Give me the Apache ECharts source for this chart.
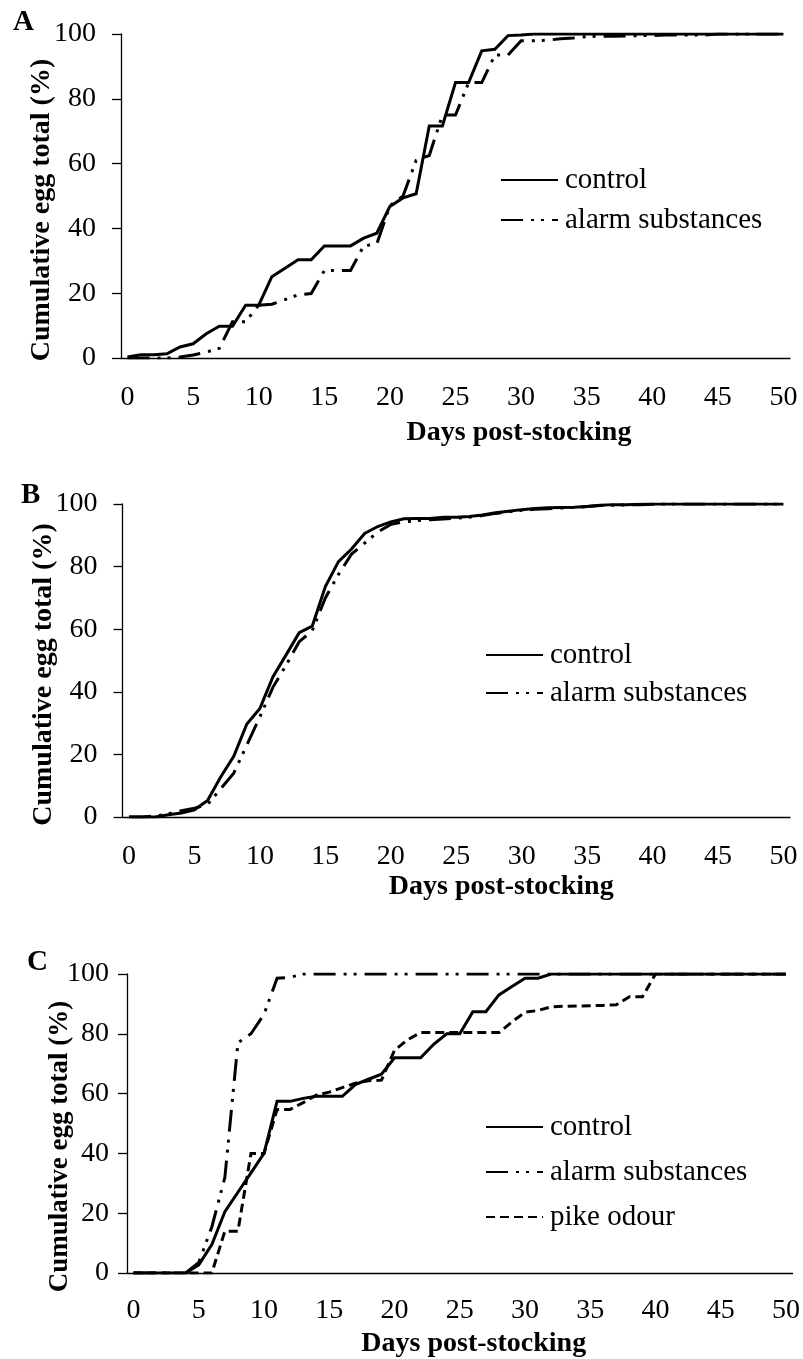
<!DOCTYPE html>
<html>
<head>
<meta charset="utf-8">
<title>Cumulative egg total</title>
<script src="https://cdn.jsdelivr.net/npm/echarts@6.0.0/dist/echarts.min.js"></script>
<style>
  html, body { margin: 0; padding: 0; background: #fff; }
  #chart { width: 803px; height: 1359px; }
</style>
</head>
<body>
<div id="chart"></div>
<script>
// days post-stocking (category axis, one per day)
var days = [0, 1, 2, 3, 4, 5, 6, 7, 8, 9, 10, 11, 12, 13, 14, 15, 16, 17, 18, 19, 20,
  21, 22, 23, 24, 25, 26, 27, 28, 29, 30, 31, 32, 33, 34, 35, 36, 37, 38, 39, 40,
  41, 42, 43, 44, 45, 46, 47, 48, 49, 50];

// panel A
var controlA = [0.3, 1, 1, 1.3, 3.4, 4.4, 7.5, 9.8, 9.8, 16.3,
  16.3, 25.1, 27.7, 30.3, 30.3, 34.6, 34.6, 34.6, 37, 38.5,
  46.8, 49.4, 50.7, 71.6, 71.6, 85, 85, 94.8, 95.3, 99.5,
  99.7, 100, 100, 100, 100, 100, 100, 100, 100, 100,
  100, 100, 100, 100, 100, 100, 100, 100, 100, 100, 100];
var alarmA = [0, 0, 0, 0, 0.3, 0.9, 1.8, 3, 11.2, 11.2,
  16.3, 16.6, 18, 19.5, 19.9, 27, 27, 27, 34.6, 35.2,
  47, 50, 61, 62.5, 75, 75, 85, 85, 93.5, 93.5,
  97.9, 97.9, 98.1, 98.5, 98.8, 99.2, 99.3, 99.3, 99.4, 99.5,
  99.5, 99.7, 99.7, 99.7, 99.7, 100, 100, 100, 100, 100, 100];

// panel B
var controlB = [0, 0, 0, 0.7, 1.3, 2.3, 5.3, 12.8, 19.4, 29.7,
  34.7, 44.8, 51.8, 58.9, 61, 73.6, 81.6, 85.6, 90.6, 92.8,
  94.3, 95.3, 95.4, 95.4, 95.8, 95.8, 96, 96.5, 97.2, 97.7,
  98.2, 98.6, 98.8, 98.9, 99, 99.2, 99.6, 99.8, 99.8, 99.9,
  100, 100, 100, 100, 100, 100, 100, 100, 100, 100, 100];
var alarmB = [0, 0, 0.3, 1, 2, 2.8, 4, 9, 14, 23,
  32, 41.5, 48.5, 56, 59.5, 70, 77.5, 84, 87.5, 91,
  93.5, 94.3, 94.7, 95, 95.2, 95.5, 95.8, 96.3, 97, 97.5,
  98, 98.3, 98.5, 98.7, 98.9, 99.2, 99.5, 99.6, 99.7, 99.8,
  99.9, 100, 100, 100, 100, 100, 100, 100, 100, 100, 100];

// panel C
var controlC = [0, 0, 0, 0, 0, 2.7, 9.5, 20.5, 27, 33.5,
  40, 57.4, 57.4, 58.4, 59.1, 59.1, 59.1, 63, 64.8, 66.5,
  72, 72, 72, 76.5, 80, 80, 87.4, 87.4, 93, 95.8,
  98.6, 98.6, 100, 100, 100, 100, 100, 100, 100, 100,
  100, 100, 100, 100, 100, 100, 100, 100, 100, 100, 100];
var alarmC = [0, 0, 0, 0, 0, 3.5, 15.4, 32, 77, 80,
  86.5, 98.6, 98.9, 100, 100, 100, 100, 100, 100, 100,
  100, 100, 100, 100, 100, 100, 100, 100, 100, 100,
  100, 100, 100, 100, 100, 100, 100, 100, 100, 100,
  100, 100, 100, 100, 100, 100, 100, 100, 100, 100, 100];
var pikeC = [0, 0, 0, 0, 0, 0, 0, 14, 14, 40,
  40, 54.7, 54.7, 57, 59.5, 60.5, 62, 63.5, 64.3, 64.5,
  74.5, 78, 80.4, 80.4, 80.4, 80.4, 80.4, 80.4, 80.4, 84,
  87.2, 87.8, 89, 89.2, 89.3, 89.4, 89.5, 89.7, 92.4, 92.4,
  100, 100, 100, 100, 100, 100, 100, 100, 100, 100, 100];

var yTicks = [0, 20, 40, 60, 80, 100];
var xTitle = 'Days post-stocking';
var yTitle = 'Cumulative egg total (%)';

var FONT = '"Liberation Serif", "Times New Roman", serif';
var dashDotDot = [22, 8, 3, 7, 3, 8];
var shortDash = [9, 5];

function xAxis(idx, labelMargin, nameGap, shift) {
  return {
    type: 'category', gridIndex: idx, data: days, boundaryGap: true,
    axisLine: { lineStyle: { color: '#000', width: 1.3 } },
    axisTick: { interval: 4, length: 9, alignWithLabel: false, lineStyle: { color: '#000', width: 1.3 } },
    axisLabel: { interval: 4, margin: labelMargin, color: '#000', fontFamily: FONT, fontSize: 28 },
    name: xTitle, nameLocation: 'middle', nameGap: nameGap, nameMoveOverlap: false,
    nameTextStyle: { color: '#000', fontFamily: FONT, fontSize: 28, fontWeight: 'bold', padding: [0, 0, 0, shift] }
  };
}

function yAxis(idx, labelMargin, nameGap, shift, nameSize) {
  return {
    type: 'value', gridIndex: idx, min: 0, max: 100, interval: 20,
    splitLine: { show: false },
    axisLine: { show: true, lineStyle: { color: '#000', width: 1.3 } },
    axisTick: { show: true, length: 9, lineStyle: { color: '#000', width: 1.3 } },
    axisLabel: { margin: labelMargin, color: '#000', fontFamily: FONT, fontSize: 28,
      formatter: function (v) { return yTicks.indexOf(v) >= 0 ? String(v) : ''; } },
    name: yTitle, nameLocation: 'middle', nameRotate: 90, nameGap: nameGap, nameMoveOverlap: false,
    nameTextStyle: { color: '#000', fontFamily: FONT, fontSize: nameSize, fontWeight: 'bold', padding: [0, shift, 0, 0] }
  };
}

function line(name, idx, data, type) {
  return {
    name: name, type: 'line', xAxisIndex: idx, yAxisIndex: idx, data: data,
    symbol: 'none', silent: true, animation: false,
    itemStyle: { color: '#000' },
    lineStyle: { color: '#000', width: 3, type: type, cap: 'butt', join: 'miter' }
  };
}

function legend(names, left, top, gap) {
  return {
    data: names, orient: 'vertical', left: left, top: top, padding: 0,
    itemWidth: 57, itemHeight: 14, itemGap: gap, selectedMode: false,
    itemStyle: { opacity: 0 },
    textStyle: { color: '#000', fontFamily: FONT, fontSize: 29, lineHeight: 30, padding: [0, 0, 0, 2] }
  };
}

function panelLabel(text, left, top) {
  return { text: text, left: left, top: top, padding: 0,
    textStyle: { color: '#000', fontFamily: FONT, fontSize: 29, fontWeight: 'bold' } };
}

var myChart = echarts.init(document.getElementById('chart'), null, { renderer: 'canvas' });

myChart.setOption({
  backgroundColor: '#fff',
  animation: false,
  title: [
    panelLabel('A', 13, 8),
    panelLabel('B', 21, 481),
    panelLabel('C', 27, 948)
  ],
  legend: [
    legend(['control', 'alarm substances'], 500, 165, 10),
    legend(['control', 'alarm substances'], 485, 640, 8),
    legend(['control', 'alarm substances', 'pike odour'], 485, 1112, 15)
  ],
  grid: [
    { left: 121, top: 34, width: 669, height: 324 },
    { left: 122.5, top: 504, width: 667.5, height: 313 },
    { left: 127, top: 974, width: 668, height: 300 }
  ],
  xAxis: [
    xAxis(0, 26, 61, 127),
    xAxis(1, 26, 56, 90),
    xAxis(2, 24, 57, 28)
  ],
  yAxis: [
    yAxis(0, 25, 65, 28, 28),
    yAxis(1, 25, 65, 28, 28),
    yAxis(2, 18, 53, 46, 27)
  ],
  series: [
    line('control', 0, controlA, 'solid'),
    line('alarm substances', 0, alarmA, dashDotDot),
    line('control', 1, controlB, 'solid'),
    line('alarm substances', 1, alarmB, dashDotDot),
    line('control', 2, controlC, 'solid'),
    line('alarm substances', 2, alarmC, dashDotDot),
    line('pike odour', 2, pikeC, shortDash)
  ]
});
</script>
</body>
</html>
